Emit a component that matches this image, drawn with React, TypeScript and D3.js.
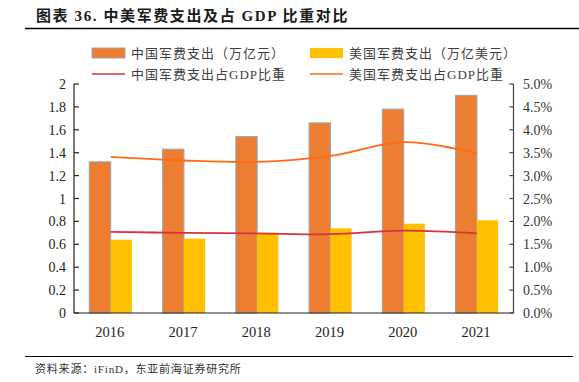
import React from "react";
import * as d3 from "d3";

const years = ["2016", "2017", "2018", "2019", "2020", "2021"];
const chinaSpend = [1.32, 1.43, 1.54, 1.66, 1.78, 1.9];
const usSpend = [0.64, 0.65, 0.7, 0.74, 0.78, 0.81];
const chinaPct = [1.77, 1.75, 1.74, 1.72, 1.8, 1.74];
const usPct = [3.41, 3.33, 3.3, 3.43, 3.73, 3.49];
const leftTicks = [0, 0.2, 0.4, 0.6, 0.8, 1, 1.2, 1.4, 1.6, 1.8, 2];
const rightTicks = [0, 0.5, 1, 1.5, 2, 2.5, 3, 3.5, 4, 4.5, 5];

const W = 579;
const H = 382;
const L = 74;
const R = 513.5;
const T = 84;
const B = 313;

const serif = "'Liberation Serif', 'Times New Roman', 'Noto Sans CJK SC', serif";
const cjk = "'Liberation Serif', 'Noto Sans CJK SC', serif";

export default function App() {
  const x = d3.scaleBand().domain(years).range([L, R]).paddingInner(0.42).paddingOuter(0.21);
  const yL = d3.scaleLinear().domain([0, 2]).range([B, T]);
  const yR = d3.scaleLinear().domain([0, 5]).range([B, T]);
  const bw = x.bandwidth() / 2;
  const cx = (y: string) => (x(y) as number) + x.bandwidth() / 2;

  const line = (vals: number[]) =>
    d3
      .line<number>()
      .x((_, i) => cx(years[i]))
      .y((d) => yR(d))
      .curve(d3.curveCatmullRom.alpha(0.5))(vals) as string;

  return (
    <div style={{ position: "absolute", left: 0, top: 0 }}>
      <svg width={W} height={H} style={{ display: "block", background: "#fff" }}>
        <text x={36} y={21} fontSize={15} fontWeight="bold" fill="#1a1a1a" fontFamily={cjk} letterSpacing={1.6}>
          图表 36. 中美军费支出及占 GDP 比重对比
        </text>
        <line x1={25} x2={579} y1={28.5} y2={28.5} stroke="#000" strokeWidth={1.5} />

        {/* legend */}
        <rect x={92} y={48} width={33} height={10} fill="#ED7D31" stroke="#A5A5A5" strokeWidth={1} />
        <text x={131} y={57.5} fontSize={13} fill="#404040" fontFamily={cjk} letterSpacing={1}>中国军费支出（万亿元）</text>
        <rect x={310} y={48} width={33} height={10} fill="#FFC000" />
        <text x={349} y={57.5} fontSize={13} fill="#404040" fontFamily={cjk} letterSpacing={1}>美国军费支出（万亿美元）</text>
        <line x1={92} x2={125} y1={74} y2={74} stroke="#D5333E" strokeWidth={1.5} />
        <text x={131} y={78.5} fontSize={13} fill="#404040" fontFamily={cjk} letterSpacing={1}>中国军费支出占GDP比重</text>
        <line x1={310} x2={343} y1={74} y2={74} stroke="#FF6A13" strokeWidth={1.5} />
        <text x={349} y={78.5} fontSize={13} fill="#404040" fontFamily={cjk} letterSpacing={1}>美国军费支出占GDP比重</text>

        {/* bars */}
        {years.map((yr, i) => (
          <g key={yr}>
            <rect
              x={x(yr) as number}
              y={yL(chinaSpend[i])}
              width={bw}
              height={B - yL(chinaSpend[i])}
              fill="#ED7D31"
              stroke="#A5A5A5"
              strokeWidth={1.2}
            />
            <rect
              x={(x(yr) as number) + bw}
              y={yL(usSpend[i])}
              width={bw}
              height={B - yL(usSpend[i])}
              fill="#FFC000"
            />
          </g>
        ))}

        {/* lines */}
        <path d={line(usPct)} fill="none" stroke="#FF6A13" strokeWidth={1.8} />
        <path d={line(chinaPct)} fill="none" stroke="#D5333E" strokeWidth={1.8} />

        {/* axes */}
        <line x1={L} x2={L} y1={T} y2={B} stroke="#222" strokeWidth={1.2} />
        <line x1={R} x2={R} y1={T} y2={B} stroke="#444" strokeWidth={1.2} />
        <line x1={L} x2={R} y1={B} y2={B} stroke="#222" strokeWidth={1.2} />
        {leftTicks.map((t) => (
          <g key={"l" + t}>
            <line x1={L} x2={L + 5} y1={yL(t)} y2={yL(t)} stroke="#222" strokeWidth={1.2} />
            <text x={66} y={yL(t) + 5} fontSize={14} textAnchor="end" fill="#222" fontFamily={serif}>
              {d3.format("~g")(t)}
            </text>
          </g>
        ))}
        {rightTicks.map((t) => (
          <g key={"r" + t}>
            <line x1={R - 4} x2={R} y1={yR(t)} y2={yR(t)} stroke="#444" strokeWidth={1.2} />
            <text x={523} y={yR(t) + 5} fontSize={14} fill="#333" fontFamily={serif}>
              {t.toFixed(1) + "%"}
            </text>
          </g>
        ))}
        {years.map((yr) => (
          <text key={"x" + yr} x={cx(yr) - 1} y={337} fontSize={14.5} textAnchor="middle" fill="#222" fontFamily={serif}>
            {yr}
          </text>
        ))}

        <line x1={25} x2={573} y1={356.5} y2={356.5} stroke="#000" strokeWidth={1.2} />
        <text x={35} y={373} fontSize={11} fill="#333" fontFamily={cjk} letterSpacing={0.8}>资料来源：iFinD，东亚前海证券研究所</text>
      </svg>
    </div>
  );
}
